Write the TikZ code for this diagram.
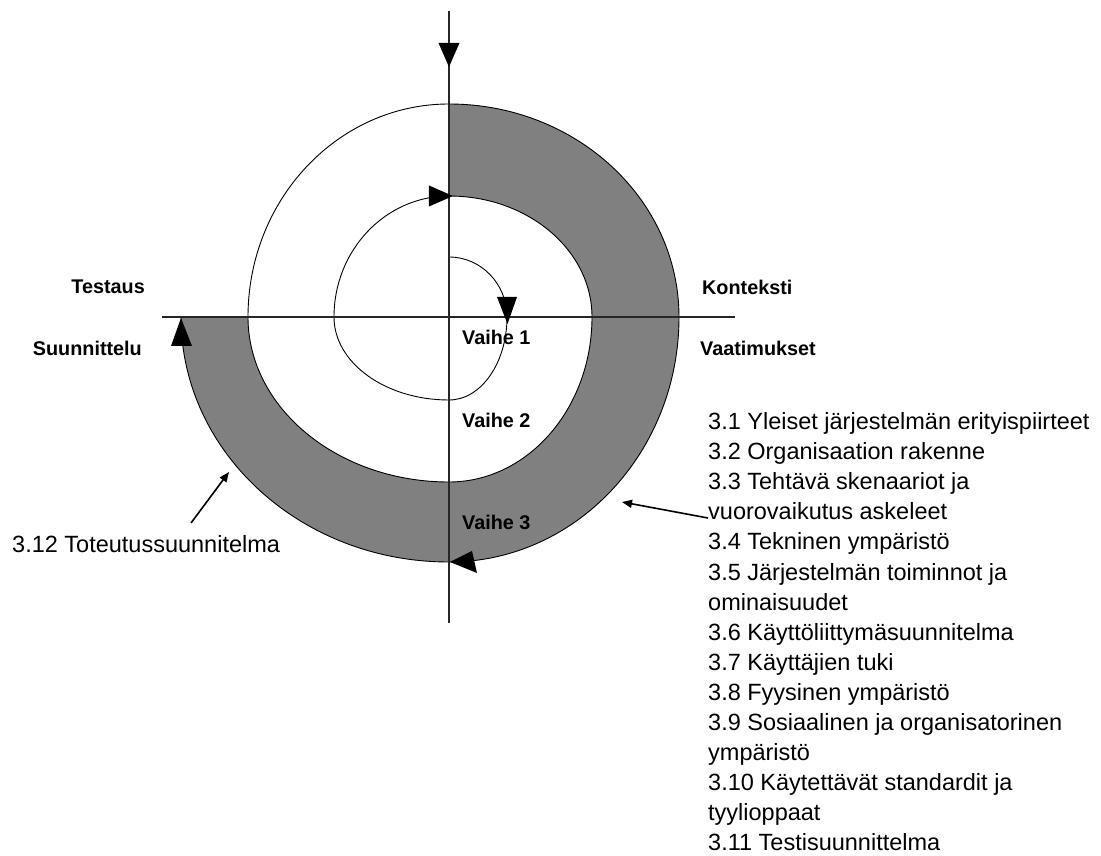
\documentclass[tikz,border=0pt]{standalone}
\usepackage{fontspec}
\setmainfont{Liberation Sans}
\usetikzlibrary{arrows.meta}
\begin{document}
\begin{tikzpicture}[x=1pt,y=1pt,
  axis/.style={line width=1.1pt, black!85},
  spiral/.style={line width=0.9pt, black},
  band/.style={fill=black!50, draw=black, line width=0.9pt},
  head/.style={fill=black},
  phase/.style={font=\fontsize{19.8}{22}\selectfont\bfseries, inner sep=0pt},
  item/.style={font=\fontsize{23.5}{30}\selectfont, inner sep=0pt, anchor=base west},
  callout/.style={line width=1.6pt, -{Triangle[length=10pt,width=8pt]}}]
\useasboundingbox (-449,-539) rectangle (652,317);

% outer grey turn of the spiral
\path[band] (0,213) arc[start angle=90,end angle=0,x radius=230,y radius=213]
  arc[start angle=0,end angle=-90,x radius=230,y radius=245]
  arc[start angle=-90,end angle=-180,x radius=268,y radius=245]
  -- (-201,0)
  arc[start angle=180,end angle=270,x radius=201,y radius=165]
  arc[start angle=270,end angle=360,x radius=143,y radius=165]
  arc[start angle=0,end angle=90,x radius=143,y radius=121]
  -- cycle;

% white turn, upper left quarter
\draw[spiral] (-201,0) arc[start angle=180,end angle=90,x radius=201,y radius=213];

% innermost thin spiral
\draw[spiral] (0,60) arc[start angle=90,end angle=0,x radius=58,y radius=60]
  arc[start angle=0,end angle=-90,x radius=58,y radius=83]
  arc[start angle=-90,end angle=-180,x radius=115,y radius=83]
  arc[start angle=180,end angle=90,x radius=115,y radius=121];

% axes
\draw[axis] (0,306) -- (0,-306);
\draw[axis] (-287,0) -- (286,0);

% arrowheads along the spiral
\fill[head] (0,250) -- (-10.5,274) -- (10.5,274) -- cycle;
\fill[head] (58.5,-7) -- (48,20) -- (68,20) -- cycle;
\fill[head] (4,121) -- (-20,131.5) -- (-20,110.5) -- cycle;
\fill[head] (1,-245) -- (23,-234) -- (28,-256) -- cycle;
\fill[head] (-268,-1) -- (-278,-29) -- (-257,-29) -- cycle;

% phase and quadrant labels
\node[phase, anchor=west] (v1) at (13,-20) {Vaihe 1};
\node[phase, anchor=west] (v2) at (13,-103) {Vaihe 2};
\node[phase, anchor=west] (v3) at (13,-205) {Vaihe 3};
\node[phase, anchor=west] (kon) at (253,30) {Konteksti};
\node[phase, anchor=west] (vaa) at (251,-31) {Vaatimukset};
\node[phase, anchor=east] (tes) at (-304,30) {Testaus};
\node[phase, anchor=east] (suu) at (-307,-31) {Suunnittelu};

% list of document sections
\foreach \t [count=\i] in {
  3.1 Yleiset järjestelmän erityispiirteet,
  3.2 Organisaation rakenne,
  3.3 Tehtävä skenaariot ja,
  vuorovaikutus askeleet,
  3.4 Tekninen ympäristö,
  3.5 Järjestelmän toiminnot ja,
  ominaisuudet,
  3.6 Käyttöliittymäsuunnitelma,
  3.7 Käyttäjien tuki,
  3.8 Fyysinen ympäristö,
  3.9 Sosiaalinen ja organisatorinen,
  ympäristö,
  3.10 Käytettävät standardit ja,
  tyylioppaat,
  3.11 Testisuunnittelma}
  \node[item] (l\i) at (259,{-113-30*(\i-1)}) {\t};

\node[item] (toteutus) at (-437,-236) {3.12 Toteutussuunnitelma};

% pointers to the grey turn
\coordinate (p12tail) at (-258,-206);
\coordinate (p12) at (-220,-155);
\coordinate (p33) at (173,-185);
\draw[callout] (p12tail) -- (p12);
\draw[callout] ([yshift=2pt]l4.base west) -- (p33);
\end{tikzpicture}
\end{document}
